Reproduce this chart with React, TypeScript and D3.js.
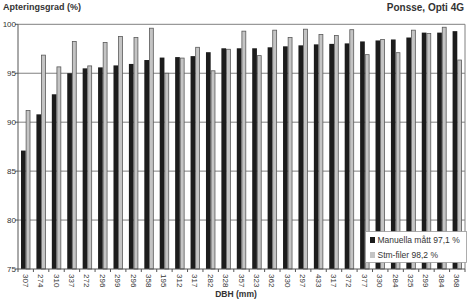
import React from "react";
import * as d3 from "d3";

const categories = ["307","274","310","337","272","296","299","296","358","195","312","317","282","328","357","323","362","330","297","433","317","372","377","330","284","325","299","384","368"];
const manual = [87.1,90.8,92.85,95.0,95.5,95.6,95.8,95.95,96.35,96.6,96.65,96.75,97.15,97.55,97.55,97.55,97.65,97.75,97.85,97.95,98.0,98.05,98.25,98.35,98.45,98.65,99.15,99.15,99.3];
const stm = [91.2,96.85,95.65,98.25,95.75,98.15,98.75,98.65,99.6,95.0,96.55,97.65,95.25,97.45,99.3,96.8,99.4,98.65,99.5,98.95,98.85,99.45,96.9,98.45,97.1,99.4,99.05,99.7,96.35];
const yTicks = [75,80,85,90,95,100];
const seriesNames = ["Manuella mått 97,1 %","Stm-filer 98,2 %"];

const W = 468, H = 300;
const L = 18, R = 465, T = 24.3, B = 269;
const font = "'Liberation Sans', Arial, sans-serif";

export default function App() {
  const idx = categories.map((_, i) => i);
  const x0 = d3.scaleBand<number>().domain(idx).range([L, R]).paddingInner(0.39).paddingOuter(0.195);
  const x1 = d3.scaleBand<number>().domain([0, 1]).range([0, x0.bandwidth()]);
  const y = d3.scaleLinear().domain([75, 100]).range([B, T]);
  const step = x0.step();

  return (
    <svg width={W} height={H} style={{ position: "absolute", left: 0, top: 0, background: "#fff" }} fontFamily={font}>
      <rect x={0} y={0} width={W} height={H} fill="#fff" />
      {/* gridlines */}
      {yTicks.filter(t => t > 75 && t < 100).map(t => (
        <line key={t} x1={L} x2={R} y1={y(t)} y2={y(t)} stroke="#808080" strokeWidth={1} />
      ))}
      {/* frame */}
      <line x1={L} x2={R} y1={y(100)} y2={y(100)} stroke="#808080" strokeWidth={1} />
      <line x1={R} x2={R} y1={y(100)} y2={B} stroke="#808080" strokeWidth={1} />
      {/* bars */}
      {idx.map(i => (
        <g key={i} transform={`translate(${x0(i)},0)`}>
          <rect x={x1(0)} y={y(manual[i])} width={x1.bandwidth()} height={B - y(manual[i])} fill="#1c1c1c" />
          <rect x={x1(1)! + 0.4} y={y(stm[i])} width={x1.bandwidth() - 0.8} height={B - y(stm[i])} fill="#c4c4c4" stroke="#5a5a5a" strokeWidth={0.8} />
        </g>
      ))}
      {/* axes */}
      <line x1={L} x2={L} y1={y(100)} y2={B} stroke="#555" strokeWidth={1} />
      <line x1={L} x2={R} y1={B} y2={B} stroke="#555" strokeWidth={1} />
      {yTicks.map(t => (
        <g key={t}>
          <line x1={L - 3} x2={L} y1={y(t)} y2={y(t)} stroke="#555" />
          <text x={16} y={y(t)} dy="0.35em" textAnchor="end" fontSize={8} fill="#333">{t}</text>
        </g>
      ))}
      {d3.range(categories.length + 1).map(k => (
        <line key={k} x1={L + k * step} x2={L + k * step} y1={B} y2={B + 3} stroke="#555" />
      ))}
      {idx.map(i => (
        <text key={i} transform={`translate(${x0(i)! + x0.bandwidth() / 2 - 3},${B + 5}) rotate(90)`} fontSize={8} fill="#333">{categories[i]}</text>
      ))}
      <text x={236} y={297} textAnchor="middle" fontSize={8.5} fontWeight="bold" fill="#333">DBH (mm)</text>
      <text x={3} y={10} fontSize={9} fontWeight="bold" fill="#333">Apteringsgrad (%)</text>
      <text x={464} y={11} textAnchor="end" fontSize={10} fontWeight="bold" fill="#333">Ponsse, Opti 4G</text>
      {/* legend */}
      <g>
        <rect x={365.5} y={231.5} width={101} height={31} fill="#fff" stroke="#999" strokeWidth={0.8} />
        <rect x={370} y={237} width={5} height={6} fill="#1c1c1c" />
        <text x={377.5} y={243} fontSize={8.5} fill="#333">{seriesNames[0]}</text>
        <rect x={370} y={252} width={5} height={6} fill="#c4c4c4" />
        <text x={377.5} y={258} fontSize={8.5} fill="#333">{seriesNames[1]}</text>
      </g>
    </svg>
  );
}
